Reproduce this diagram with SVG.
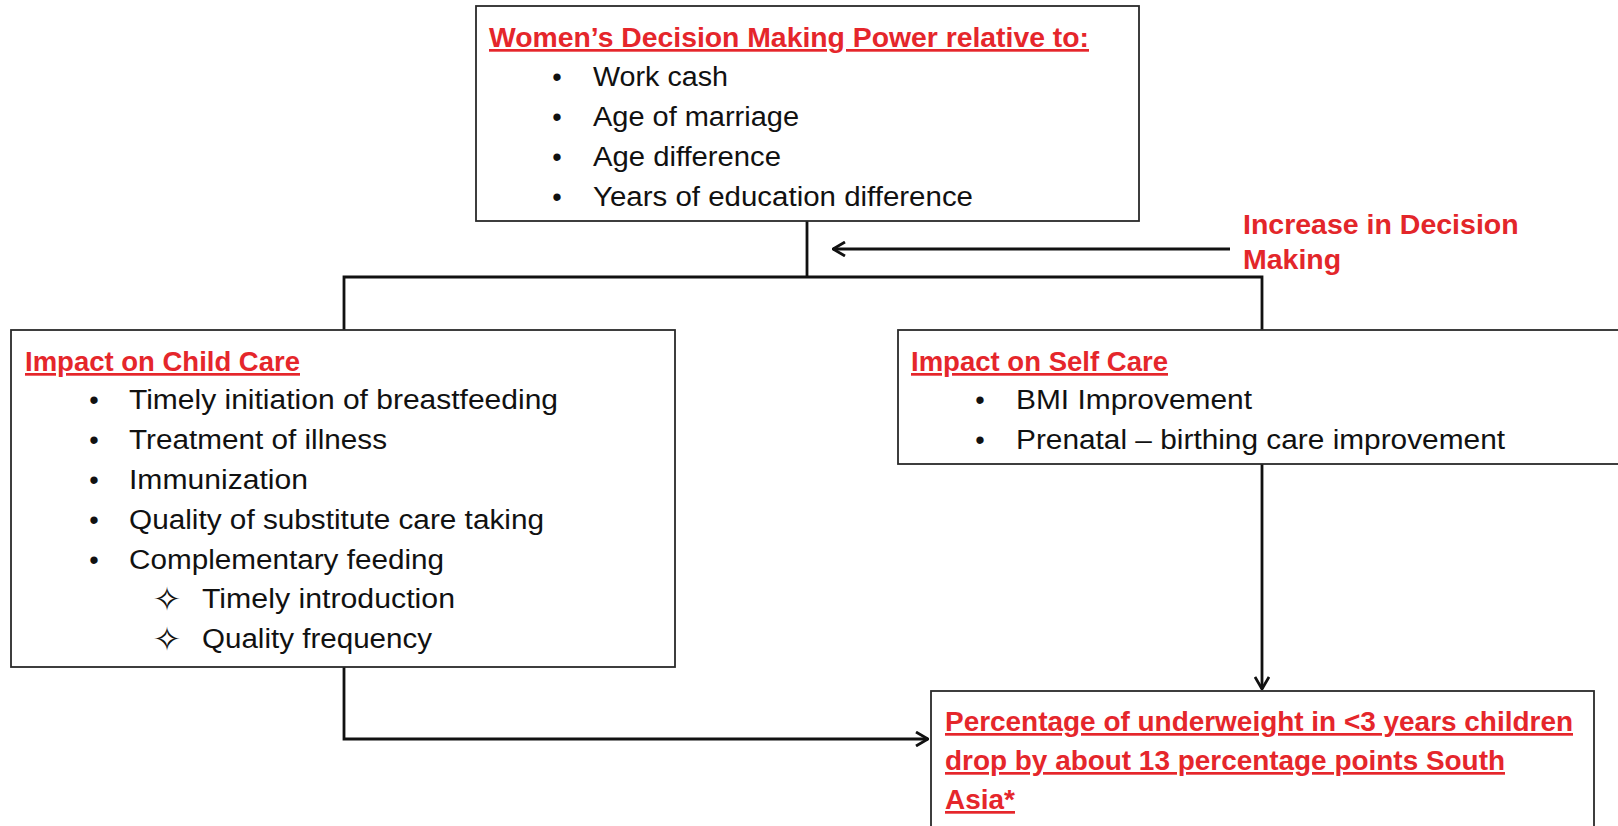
<svg xmlns="http://www.w3.org/2000/svg" width="1618" height="826" viewBox="0 0 1618 826">
<style>
.box{fill:#fff;stroke:#2a2a2a;stroke-width:1.8}
.t{font-family:"Liberation Sans",Arial,sans-serif;font-size:27px;fill:#111}
.h{font-family:"Liberation Sans",Arial,sans-serif;font-size:27px;font-weight:bold;fill:#e5262b;text-decoration:underline}
.b{font-family:"Liberation Sans",Arial,sans-serif;font-size:27px;fill:#111;text-anchor:middle}
.s{font-family:"DejaVu Sans",sans-serif;font-size:34px;fill:#111;text-anchor:middle}
.r{font-family:"Liberation Sans",Arial,sans-serif;font-size:28.5px;font-weight:bold;fill:#e3262a}
.c{fill:none;stroke:#111;stroke-width:2.8}
</style>
<defs>
<marker id="arr" markerUnits="userSpaceOnUse" viewBox="0 0 14 16" markerWidth="14" markerHeight="16" refX="13" refY="8" orient="auto">
<path d="M1,1 L13,8 L1,15" fill="none" stroke="#111" stroke-width="2.8"/>
</marker>
</defs>
<rect width="1618" height="826" fill="#fff"/>
<g id="connectors">
<path class="c" d="M807,221 V277"/>
<path class="c" d="M344,330 V277 H1262 V330"/>
<path class="c" d="M1230,249 H833" marker-end="url(#arr)"/>
<path class="c" d="M1262,464 V689" marker-end="url(#arr)"/>
<path class="c" d="M344,667 V739 H928" marker-end="url(#arr)"/>
</g>
<g id="node-decision">
<rect class="box" x="476" y="6" width="663" height="215"/>
<text class="h" x="489" y="47" textLength="600" lengthAdjust="spacingAndGlyphs">Women’s Decision Making Power relative to:</text>
<text class="b" x="557" y="86">•</text>
<text class="t" x="593" y="86" textLength="135" lengthAdjust="spacingAndGlyphs">Work cash</text>
<text class="b" x="557" y="126">•</text>
<text class="t" x="593" y="126" textLength="206" lengthAdjust="spacingAndGlyphs">Age of marriage</text>
<text class="b" x="557" y="166">•</text>
<text class="t" x="593" y="166" textLength="188" lengthAdjust="spacingAndGlyphs">Age difference</text>
<text class="b" x="557" y="206">•</text>
<text class="t" x="593" y="206" textLength="380" lengthAdjust="spacingAndGlyphs">Years of education difference</text>
</g>
<g id="label-increase">
<text class="r" x="1243" y="234">Increase in Decision</text>
<text class="r" x="1243" y="269">Making</text>
</g>
<g id="node-child">
<rect class="box" x="11" y="330" width="664" height="337"/>
<text class="h" x="25" y="371" textLength="275" lengthAdjust="spacingAndGlyphs">Impact on Child Care</text>
<text class="b" x="94" y="409">•</text>
<text class="t" x="129" y="409" textLength="429" lengthAdjust="spacingAndGlyphs">Timely initiation of breastfeeding</text>
<text class="b" x="94" y="449">•</text>
<text class="t" x="129" y="449" textLength="258" lengthAdjust="spacingAndGlyphs">Treatment of illness</text>
<text class="b" x="94" y="489">•</text>
<text class="t" x="129" y="489" textLength="179" lengthAdjust="spacingAndGlyphs">Immunization</text>
<text class="b" x="94" y="529">•</text>
<text class="t" x="129" y="529" textLength="415" lengthAdjust="spacingAndGlyphs">Quality of substitute care taking</text>
<text class="b" x="94" y="569">•</text>
<text class="t" x="129" y="569" textLength="315" lengthAdjust="spacingAndGlyphs">Complementary feeding</text>
<text class="s" x="167" y="611">✧</text>
<text class="t" x="202" y="608" textLength="253" lengthAdjust="spacingAndGlyphs">Timely introduction</text>
<text class="s" x="167" y="651">✧</text>
<text class="t" x="202" y="648" textLength="230" lengthAdjust="spacingAndGlyphs">Quality frequency</text>
</g>
<g id="node-self">
<rect class="box" x="898" y="330" width="730" height="134"/>
<text class="h" x="911" y="371" textLength="257" lengthAdjust="spacingAndGlyphs">Impact on Self Care</text>
<text class="b" x="980" y="409">•</text>
<text class="t" x="1016" y="409" textLength="236" lengthAdjust="spacingAndGlyphs">BMI Improvement</text>
<text class="b" x="980" y="449">•</text>
<text class="t" x="1016" y="449" textLength="489" lengthAdjust="spacingAndGlyphs">Prenatal – birthing care improvement</text>
</g>
<g id="node-result">
<rect class="box" x="931" y="691" width="663" height="145"/>
<text class="h" x="945" y="731" textLength="628" lengthAdjust="spacingAndGlyphs">Percentage of underweight in &lt;3 years children</text>
<text class="h" x="945" y="770" textLength="560" lengthAdjust="spacingAndGlyphs">drop by about 13 percentage points South</text>
<text class="h" x="945" y="809" textLength="70" lengthAdjust="spacingAndGlyphs">Asia*</text>
</g>
</svg>
